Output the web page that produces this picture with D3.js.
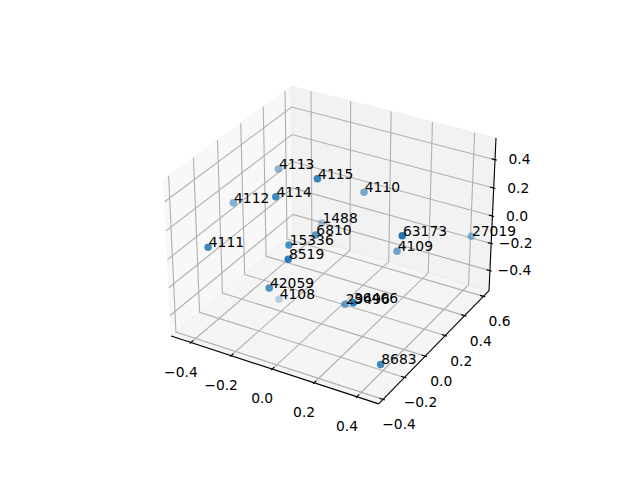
<!DOCTYPE html>
<html><head><meta charset="utf-8"><style>html,body{margin:0;background:#fff}svg{display:block}text{font-family:"DejaVu Sans";fill:#000}</style>
<script src="https://cdn.jsdelivr.net/npm/d3@7"></script></head><body>
<script>
// Data
const labels=["4113","4115","4114","4112","4110","4111","1488","6810","15336","8519","42059","4108","63173","4109","27019","29496","36406","8683"];
const xs=[-.332,.005,-.147,-.438,.053,-.335,-.168,-.011,-.074,.007,-.100,-.282,.403,.256,.453,.123,.287,.396];
const ys=[.229,-.039,-.125,.014,.297,-.376,.323,-.027,-.148,-.301,-.277,.128,-.046,.213,.546,-.013,-.257,-.216];
const zs=[.274,.506,.377,.128,.220,.114,-.106,.103,.088,.127,-.137,-.590,.286,-.059,-.091,-.341,-.080,-.495];
const xTicks=[-.4,-.2,0,.2,.4],yTicks=[-.4,-.2,0,.2,.4,.6],zTicks=[-.4,-.2,0,.2,.4];
const xLim=[-.5,.5],yLim=[-.44,.66],zLim=[-.55,.55];

// Matplotlib-style 3D view (elev 30, azim -60, dist 10)
const box=[1.19048,1.19048,.89286],C=box.map(b=>b/2);
const X=d3.scaleLinear().domain(xLim).range([0,box[0]]),Y=d3.scaleLinear().domain(yLim).range([0,box[1]]),Z=d3.scaleLinear().domain(zLim).range([0,box[2]]);
const c30=Math.sqrt(3)/2;
const w=[.5*c30,-c30*c30,.5],u=[c30,.5,0],v=[w[1]*u[2]-w[2]*u[1],w[2]*u[0]-w[0]*u[2],w[0]*u[1]-w[1]*u[0]];
const dot=(a,b)=>a[0]*b[0]+a[1]*b[1]+a[2]*b[2];
const SX=d3.scaleLinear().domain([-.095,.09]).range([143.2,512.8]),SY=d3.scaleLinear().domain([-.095,.09]).range([427.2,57.6]);
function proj(x,y,z){const d=[X(x)-C[0],Y(y)-C[1],Z(z)-C[2]];const zv=dot(d,w);return [SX(dot(d,u)/(10-zv)),SY(dot(d,v)/(10-zv)),zv];}
const line=d3.line().x(p=>proj(...p)[0]).y(p=>proj(...p)[1]);

const svg=d3.select("body").append("svg").attr("width",640).attr("height",480);
const [x0,x1]=xLim,[y0,y1]=yLim,[z0,z1]=zLim;
[[[x0,y0,z0],[x0,y1,z0],[x0,y1,z1],[x0,y0,z1]],[[x0,y1,z0],[x1,y1,z0],[x1,y1,z1],[x0,y1,z1]],[[x0,y0,z0],[x1,y0,z0],[x1,y1,z0],[x0,y1,z0]]].forEach((p,i)=>{
 const c=["rgba(242,242,242,.5)","rgba(230,230,230,.5)","rgba(236,236,236,.5)"][i];
 svg.append("path").attr("d",line(p)+"Z").attr("fill",c).attr("stroke",c);});
const G=p=>svg.append("path").attr("d",line(p)).attr("fill","none").attr("stroke","#b0b0b0").attr("stroke-width",1.11);
xTicks.forEach(t=>G([[t,y0,z0],[t,y1,z0],[t,y1,z1]]));
yTicks.forEach(t=>G([[x1,t,z0],[x0,t,z0],[x0,t,z1]]));
zTicks.forEach(t=>G([[x0,y0,t],[x0,y1,t],[x1,y1,t]]));
const L=p=>svg.append("path").attr("d",line(p)).attr("fill","none").attr("stroke","#000").attr("stroke-width",1.11);
L([[x0,y0,z0],[x1,y0,z0]]);L([[x1,y0,z0],[x1,y1,z0]]);L([[x1,y1,z0],[x1,y1,z1]]);
const dx=(x1-x0)/12,dy=(y1-y0)/12;
const fmt=t=>d3.format(".1f")(t).replace("-","\u2212");
const T=(q,ox,oy,t)=>svg.append("text").attr("x",q[0]+ox).attr("y",q[1]+oy).attr("text-anchor","middle").attr("dominant-baseline","central").attr("font-size",13.89).text(fmt(t));
xTicks.forEach(t=>{L([[t,y0+.2*dy,z0],[t,y0-.1*dy,z0]]);T(proj(t,y0,z0),-10,29,t)});
yTicks.forEach(t=>{L([[x1-.2*dx,t,z0],[x1+.1*dx,t,z0]]);T(proj(x1,t,z0),16,25,t)});
zTicks.forEach(t=>{L([[x1-.2*dx,y1,t],[x1+.1*dx,y1,t]]);T(proj(x1,y1,t),24.5,-.5,t)});

// Points with depth shading
const pts=labels.map((l,i)=>{const q=proj(xs[i],ys[i],zs[i]);return {l,px:q[0],py:q[1],depth:q[2]}});
const A=d3.scaleLinear().domain(d3.extent(pts,d=>d.depth)).range([.3,1]);
svg.append("g").selectAll("circle").data(pts.slice().sort((a,b)=>a.depth-b.depth)).join("circle")
 .attr("cx",d=>d.px).attr("cy",d=>d.py).attr("r",3.75).attr("fill","#1f77b4").attr("fill-opacity",d=>A(d.depth));
svg.append("g").selectAll("text").data(pts).join("text").attr("x",d=>d.px+.7).attr("y",d=>d.py).attr("font-size",13.89).text(d=>d.l);
</script></body></html>
